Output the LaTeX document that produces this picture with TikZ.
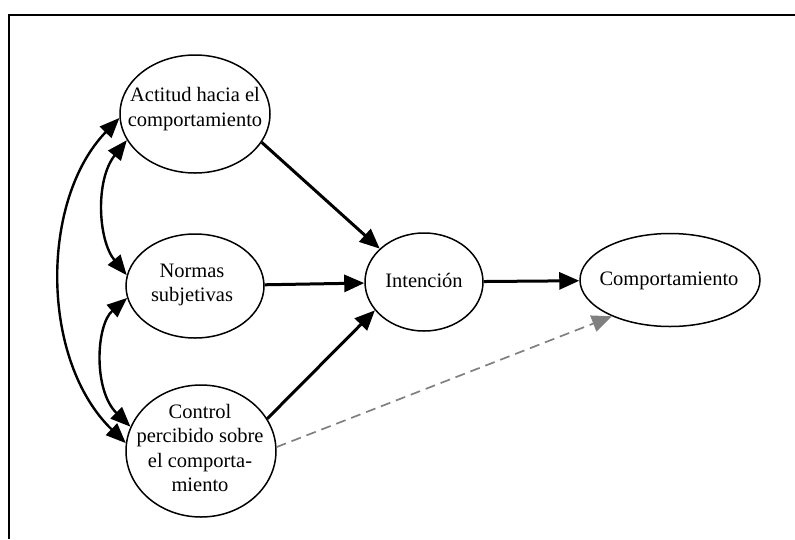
\documentclass[tikz,border=0pt]{standalone}
\usepackage{fontspec}
\setmainfont{Liberation Serif}
\usetikzlibrary{arrows.meta,shapes.geometric}
\begin{document}
\begin{tikzpicture}[x=1pt,y=-1pt,
  oval/.style={ellipse,draw,line width=1.5pt,inner sep=0pt},
  lbl/.style={align=center,font=\fontsize{20.5}{24.5}\selectfont},
  arr/.style={line width=3pt,-{Triangle[length=20pt,width=17pt]}},
  darr/.style={line width=2.4pt,{Triangle[length=20pt,width=16pt]}-{Triangle[length=20pt,width=16pt]}},
  grayarr/.style={draw=gray,line width=1.7pt,dash pattern=on 10pt off 6pt,-{Triangle[length=20pt,width=17pt]}}]
\useasboundingbox (0,0) rectangle (795,539);
\coordinate (tl) at (9,15);
\coordinate (tr) at (795,15);
\coordinate (bl) at (9,539);
\draw[line width=1.8pt] (tr) -- (tl) -- (bl);
% ellipses
\node[oval,minimum width=150pt,minimum height=118pt] (act) at (195,114) {};
\node[oval,minimum width=138pt,minimum height=104pt] (nor) at (195,286) {};
\node[oval,minimum width=150pt,minimum height=132pt] (con) at (201,451) {};
\node[oval,minimum width=118pt,minimum height=98pt] (int) at (424,282) {};
\node[oval,minimum width=180pt,minimum height=93pt] (com) at (670,280) {};
% labels
\node[lbl] (tact) at (195,109) {Actitud hacia el\\comportamiento};
\node[lbl] (tnor) at (192,285) {Normas\\subjetivas};
\node[lbl] (tcon) at (200,448) {Control\\percibido sobre\\el comporta-\\miento};
\node[lbl] (tint) at (424,280) {Intención};
\node[lbl] (tcom) at (669,281) {Comportamiento};
% straight arrows
\draw[arr] (act.337) -- (int.143);
\draw[arr] (nor) -- (int);
\draw[arr] (con.26) -- (int.210);
\draw[arr] (int) -- (com);
\draw[grayarr] (con.3) -- (com.212.5);
% curved double arrows
\draw[darr] (act.201) .. controls (95,180) and (98,240) .. (nor.171);
\draw[darr] (nor.190) .. controls (96,325) and (93,390) .. (con.161);
\draw[darr] (act.183) .. controls (40,200) and (40,360) .. (con.174);
\end{tikzpicture}
\end{document}
